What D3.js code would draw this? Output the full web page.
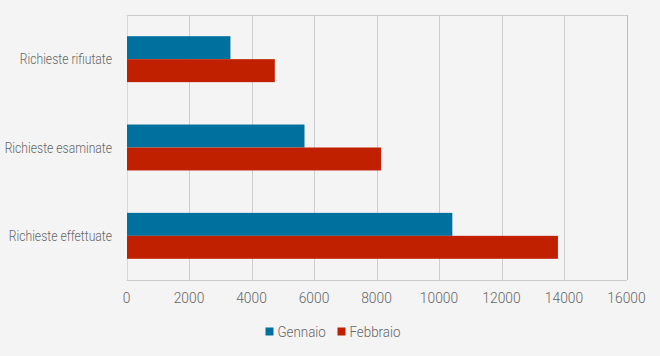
<!DOCTYPE html>
<html><head><meta charset="utf-8">
<script src="https://cdn.jsdelivr.net/npm/d3@7"></script>
<style>
html,body{margin:0;padding:0;background:#f4f4f4;}
svg{display:block;}
text{font-family:Roboto,"Liberation Sans Narrow",sans-serif;fill:#666;font-weight:300;}
</style></head><body>
<svg id="c" width="660" height="356"></svg>
<script>
const categories = ["Richieste rifiutate","Richieste esaminate","Richieste effettuate"];
const seriesNames = ["Gennaio","Febbraio"];
const gennaio = [3310, 5680, 10410];
const febbraio = [4730, 8130, 13790];
const xTicks = [0,2000,4000,6000,8000,10000,12000,14000,16000];
const colors = ["#00709e","#c02000"];

const svg = d3.select("#c");
const m = {left:126.5, right:626.5, top:15, bottom:280};
const x = d3.scaleLinear().domain([0,16000]).range([m.left, m.right]);
const y = d3.scaleBand().domain(categories).range([m.top, m.bottom]).paddingInner(0.48).paddingOuter(0.24);
const ySub = d3.scaleBand().domain(seriesNames).range([0, y.bandwidth()]);

// grid
svg.append("g").selectAll("line").data(xTicks.slice(1)).join("line")
  .attr("x1", d=>Math.round(x(d))+0.5).attr("x2", d=>Math.round(x(d))+0.5)
  .attr("y1", m.top).attr("y2", m.bottom)
  .attr("stroke", d=> d===16000 ? "#bdbdbd" : "#cdcdcd").attr("stroke-width", 1);
// frame top
svg.append("line").attr("x1", m.left).attr("x2", m.right+0.5).attr("y1", m.top+0.5).attr("y2", m.top+0.5).attr("stroke","#cdcdcd");
// bottom axis line
svg.append("line").attr("x1", m.left).attr("x2", m.right+0.5).attr("y1", m.bottom+0.5).attr("y2", m.bottom+0.5).attr("stroke","#cdcdcd");
// left axis line
svg.append("line").attr("x1", Math.round(m.left)+0.5).attr("x2", Math.round(m.left)+0.5).attr("y1", m.top).attr("y2", m.bottom).attr("stroke","#d8d8d8");

const data = [gennaio, febbraio];
data.forEach((vals, si) => {
  svg.append("g").selectAll("rect").data(vals).join("rect")
    .attr("x", x(0)+0.5)
    .attr("y", (d,i)=> y(categories[i]) + ySub(seriesNames[si]))
    .attr("width", d=> x(d)-x(0))
    .attr("height", ySub.bandwidth())
    .attr("fill", colors[si]);
});

// y labels
svg.append("g").selectAll("text").data(categories).join("text")
  .attr("transform", d=>`translate(112,${y(d)+y.bandwidth()/2}) scale(0.81,1)`)
  .attr("dy","0.35em").attr("text-anchor","end")
  .attr("font-size", 15).text(d=>d);

// x tick labels
svg.append("g").selectAll("text").data(xTicks).join("text")
  .attr("transform", d=>`translate(${x(d)},298) scale(0.92,1)`)
  .attr("dy","0.35em")
  .attr("text-anchor","middle").attr("font-size", 15).text(d=>d);

// legend
const lg = svg.append("g");
const legX = [265.5, 337.5];
seriesNames.forEach((s,i)=>{
  lg.append("rect").attr("x", legX[i]).attr("y", 327.5).attr("width", 8).attr("height", 8).attr("fill", colors[i]);
  lg.append("text").attr("transform", `translate(${legX[i]+12},331.5) scale(0.92,1)`).attr("dy","0.35em").attr("font-size", 14.5).text(s);
});
</script>
</body></html>
